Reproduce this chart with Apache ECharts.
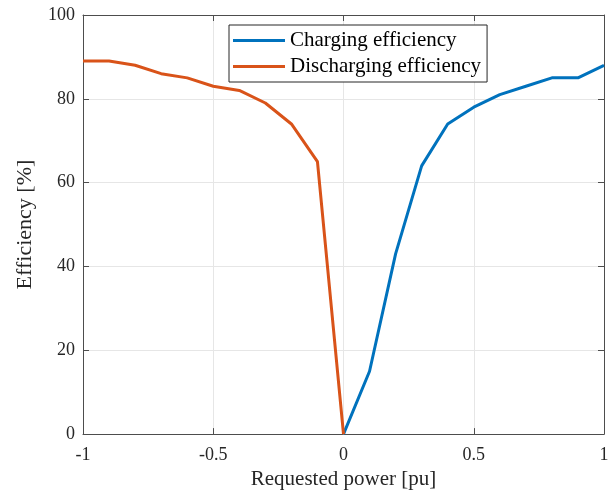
<!DOCTYPE html>
<html>
<head>
<meta charset="utf-8">
<script src="https://cdn.jsdelivr.net/npm/echarts@6/dist/echarts.min.js"></script>
<style>
html,body{margin:0;padding:0;background:#fff;}
#c{width:615px;height:495px;}
</style>
</head>
<body>
<div id="c"></div>
<script>
const chargingPower = [0, 0.1, 0.2, 0.3, 0.4, 0.5, 0.6, 0.7, 0.8, 0.9, 1.0];
const chargingEff = [0, 15, 43, 64, 74, 78, 81, 83, 85, 85, 88];
const dischargingPower = [-1, -0.9, -0.8, -0.7, -0.6, -0.5, -0.4, -0.3, -0.2, -0.1, 0];
const dischargingEff = [89, 89, 88, 86, 85, 83, 82, 79, 74, 65, 0];
const seriesNames = ['Charging efficiency', 'Discharging efficiency'];
const xLabel = 'Requested power [pu]';
const yLabel = 'Efficiency [%]';

const font = '"Liberation Serif", "DejaVu Serif", serif';
const axisColor = '#4d4d4d';
const textColor = '#262626';

const zip = (xs, ys) => xs.map((x, i) => [x, ys[i]]);

const chart = echarts.init(document.getElementById('c'), null, {renderer: 'canvas'});
chart.setOption({
  animation: false,
  backgroundColor: '#fff',
  textStyle: {fontFamily: font},
  grid: {left: 83, right: 11, top: 15, bottom: 60, containLabel: false},
  legend: {
    data: seriesNames,
    orient: 'vertical',
    left: 229,
    top: 25,
    backgroundColor: '#fff',
    borderColor: textColor,
    borderWidth: 1,
    borderRadius: 0,
    padding: [4, 6, 4, 4],
    itemGap: 3,
    itemWidth: 52,
    itemHeight: 3,
    icon: 'rect',
    textStyle: {fontFamily: font, fontSize: 21, color: '#000', lineHeight: 23, padding: [0, 0, 0, 0]}
  },
  xAxis: [{
    type: 'value', min: -1, max: 1, interval: 0.5,
    name: xLabel, nameLocation: 'middle', nameGap: 34,
    nameTextStyle: {fontFamily: font, fontSize: 21, color: textColor},
    axisLine: {show: true, onZero: false, lineStyle: {color: axisColor, width: 1}},
    axisTick: {show: true, inside: true, length: 6, lineStyle: {color: axisColor}},
    axisLabel: {fontFamily: font, fontSize: 18, color: textColor, margin: 12},
    splitLine: {show: true, lineStyle: {color: '#e6e6e6', width: 1}}
  }, {
    type: 'value', min: -1, max: 1, interval: 0.5, position: 'top',
    axisLine: {show: true, onZero: false, lineStyle: {color: axisColor, width: 1}},
    axisTick: {show: true, inside: true, length: 6, lineStyle: {color: axisColor}},
    axisLabel: {show: false}, splitLine: {show: false}
  }],
  yAxis: [{
    type: 'value', min: 0, max: 100, interval: 20,
    name: yLabel, nameLocation: 'middle', nameGap: 47, nameRotate: 90,
    nameTextStyle: {fontFamily: font, fontSize: 22, color: textColor},
    axisLine: {show: true, onZero: false, lineStyle: {color: axisColor, width: 1}},
    axisTick: {show: true, inside: true, length: 6, lineStyle: {color: axisColor}},
    axisLabel: {fontFamily: font, fontSize: 18, color: textColor, margin: 8},
    splitLine: {show: true, lineStyle: {color: '#e6e6e6', width: 1}}
  }, {
    type: 'value', min: 0, max: 100, interval: 20, position: 'right',
    axisLine: {show: true, onZero: false, lineStyle: {color: axisColor, width: 1}},
    axisTick: {show: true, inside: true, length: 6, lineStyle: {color: axisColor}},
    axisLabel: {show: false}, splitLine: {show: false}
  }],
  series: [{
    name: seriesNames[0], type: 'line',
    data: zip(chargingPower, chargingEff),
    showSymbol: false, symbol: 'none',
    lineStyle: {color: '#0072BD', width: 3},
    itemStyle: {color: '#0072BD'}
  }, {
    name: seriesNames[1], type: 'line',
    data: zip(dischargingPower, dischargingEff),
    showSymbol: false, symbol: 'none',
    lineStyle: {color: '#D95319', width: 3},
    itemStyle: {color: '#D95319'}
  }]
});
</script>
</body>
</html>
